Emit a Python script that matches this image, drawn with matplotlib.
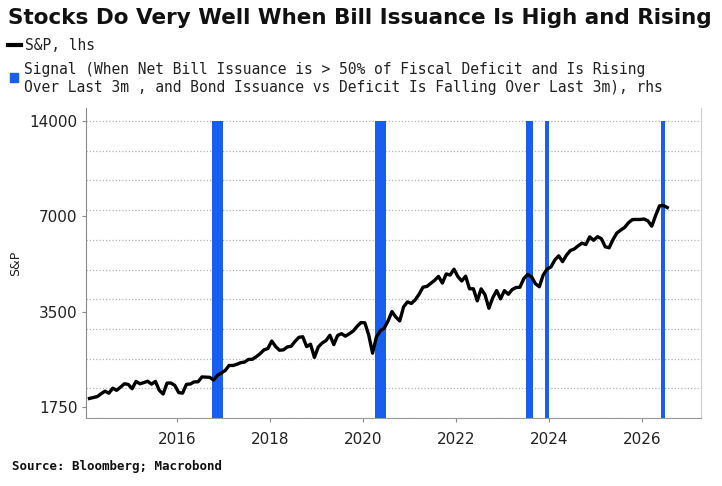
import numpy as np
import matplotlib
matplotlib.use("Agg")
import matplotlib.pyplot as plt
from matplotlib.lines import Line2D
from matplotlib.patches import Rectangle
from matplotlib.ticker import NullLocator, FixedLocator, FixedFormatter

# S&P 500 month-end levels, Feb 2014 .. Jul 2026
spx_start = (2014, 2)
spx = [
    1859, 1872, 1884, 1924, 1960, 1931, 2003, 1972, 2018, 2068, 2059,          # 2014
    1995, 2105, 2068, 2086, 2107, 2063, 2104, 1972, 1920, 2079, 2080, 2044,    # 2015
    1940, 1932, 2060, 2065, 2097, 2099, 2174, 2171, 2168, 2126, 2199, 2239,    # 2016
    2279, 2364, 2363, 2384, 2412, 2423, 2470, 2472, 2519, 2575, 2648, 2674,    # 2017
    2824, 2714, 2641, 2648, 2705, 2718, 2816, 2902, 2914, 2712, 2760, 2507,    # 2018
    2704, 2784, 2834, 2946, 2752, 2942, 2980, 2926, 2977, 3038, 3141, 3231,    # 2019
    3226, 2954, 2585, 2912, 3044, 3100, 3271, 3500, 3363, 3270, 3622, 3756,    # 2020
    3714, 3811, 3973, 4181, 4204, 4298, 4395, 4523, 4308, 4605, 4567, 4766,    # 2021
    4516, 4374, 4530, 4132, 4132, 3785, 4130, 3955, 3586, 3872, 4080, 3840,    # 2022
    4077, 3970, 4109, 4169, 4180, 4450, 4589, 4508, 4288, 4194, 4568, 4770,    # 2023
    4846, 5096, 5254, 5036, 5278, 5460, 5522, 5648, 5762, 5705, 6032, 5882,    # 2024
    6041, 5955, 5612, 5569, 5912, 6205, 6339, 6460, 6688, 6840, 6849, 6846,    # 2025
    6870, 6780, 6520, 7050, 7560, 7580, 7470,                                  # 2026
]

# months where the signal is on (value 1 on the rhs axis)
signal_months = ["2016-10", "2016-11", "2016-12",
                 "2020-04", "2020-05", "2020-06",
                 "2023-07", "2023-08", "2023-12",
                 "2026-06"]

year_ticks = [2016, 2018, 2020, 2022, 2024, 2026]
spx_ticks = [1750, 3500, 7000, 14000]

title = "Stocks Do Very Well When Bill Issuance Is High and Rising"
leg_spx = "S&P, lhs"
leg_sig = ("Signal (When Net Bill Issuance is > 50% of Fiscal Deficit and Is Rising\n"
           "Over Last 3m , and Bond Issuance vs Deficit Is Falling Over Last 3m), rhs")
source = "Source: Bloomberg; Macrobond"

BLUE = "#1a5ef0"
W, H = 722, 486

# decimal-year positions: mid-month for the index, month start for signal bars
n = len(spx)
spx_x = spx_start[0] + (spx_start[1] - 1 + np.arange(n) + 0.5) / 12.0
sig_x = np.array([int(s[:4]) + (int(s[5:]) - 1) / 12.0 for s in signal_months])
sig_y = np.ones(len(sig_x))

fig = plt.figure(figsize=(W / 100, H / 100), dpi=100)
fig.patch.set_facecolor("white")

ax = fig.add_axes([86 / W, 1 - 418 / H, 614.7 / W, 310 / H])
ax2 = ax.twinx()

# rhs: signal bars + grid
ax2.bar(sig_x, sig_y, width=1 / 12.0, align="edge", color=BLUE, linewidth=0)
ax2.set_ylim(0, 1.0438)
ax2.yaxis.set_major_locator(FixedLocator(np.arange(0, 1.001, 0.1)))
ax2.grid(axis="y", color="#b4b4b4", linestyle=(0, (1, 1.6)), linewidth=0.9)
ax2.set_axisbelow(True)
ax2.tick_params(right=False, labelright=False)

# lhs: S&P on log scale, drawn above the bars
ax.set_zorder(ax2.get_zorder() + 1)
ax.patch.set_visible(False)
ax.plot(spx_x, spx, color="black", lw=2.4, solid_joinstyle="round")
ax.set_yscale("log")
ax.set_ylim(1612, 15424)
ax.yaxis.set_major_locator(FixedLocator(spx_ticks))
ax.yaxis.set_major_formatter(FixedFormatter([str(v) for v in spx_ticks]))
ax.yaxis.set_minor_locator(NullLocator())
ax.set_xlim(2014.05, 2027.26)
ax.set_xticks(year_ticks)
ax.set_xticklabels([str(y) for y in year_ticks])
ax.set_ylabel("S&P", fontsize=9, color="#222222", labelpad=5)

for a in (ax, ax2):
    a.spines["top"].set_visible(False)
ax.spines["right"].set_visible(False)
ax2.spines["left"].set_visible(False)
ax2.spines["bottom"].set_visible(False)
ax.spines["left"].set_color("#8a8a8a")
ax.spines["bottom"].set_color("#9a9a9a")
ax2.spines["right"].set_color("#cccccc")
ax.tick_params(axis="both", colors="#8a8a8a", labelcolor="#222222",
               labelsize=11, length=3, width=0.8)
ax.tick_params(axis="x", pad=7)
ax.tick_params(axis="y", pad=3)

# header and legend
fig.text(8 / W, 1 - 18 / H, title, fontsize=15.5, fontweight="bold",
         va="center", ha="left", color="#111111")
fig.add_artist(Line2D([8 / W, 21 / W], [1 - 45 / H] * 2, color="black", lw=3,
                      transform=fig.transFigure))
fig.text(25 / W, 1 - 45 / H, leg_spx, family="DejaVu Sans Mono", fontsize=10.5,
         va="center", ha="left", color="#222222")
fig.add_artist(Rectangle((10 / W, 1 - 82 / H), 8 / W, 9 / H, color=BLUE,
                         transform=fig.transFigure))
fig.text(24 / W, 1 - 78.5 / H, leg_sig, family="DejaVu Sans Mono", fontsize=10.5,
         va="center", ha="left", color="#222222", linespacing=1.3)
fig.text(12 / W, 1 - 466 / H, source, family="DejaVu Sans Mono", fontsize=9,
         fontweight="bold", va="center", ha="left", color="#111111")

fig.savefig("out.png", dpi=100)
